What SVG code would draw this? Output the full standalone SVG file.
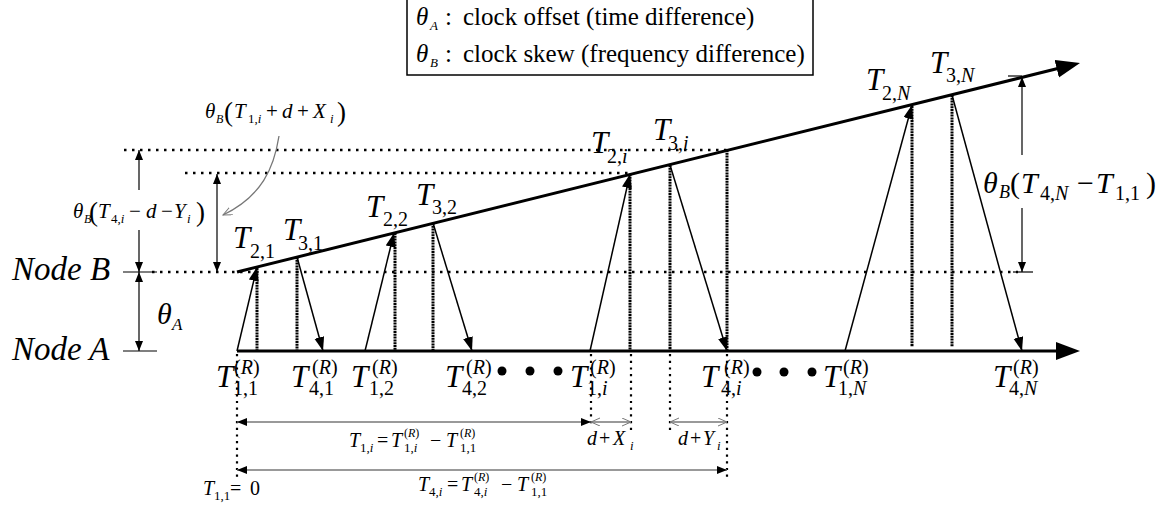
<svg xmlns="http://www.w3.org/2000/svg" width="1170" height="506" viewBox="0 0 1170 506">
<style>
text{font-family:"Liberation Serif","Times New Roman",serif;fill:#000}
.i{font-style:italic}
.u{font-style:normal}
.ax{stroke:#000;stroke-width:3;fill:none}
.msg{stroke:#000;stroke-width:1.5;fill:none;marker-end:url(#ma)}
.tv{stroke:#000;stroke-width:3;stroke-dasharray:2 0.8;fill:none}
.hd{stroke:#000;stroke-width:2.5;stroke-dasharray:2.5 5.5;fill:none}
.vd{stroke:#000;stroke-width:2.2;stroke-dasharray:2.2 4.5;fill:none}
.dim{stroke:#000;stroke-width:1.2;fill:none}
.gd{stroke:#777;stroke-width:1.3;fill:none}
.T{font-size:31px;font-style:italic}
.s{font-size:20px}
</style>
<defs>
<marker id="ma" markerUnits="userSpaceOnUse" markerWidth="16" markerHeight="12" refX="14" refY="5" orient="auto"><path d="M0,0 L14,5 L0,10 z" fill="#000"/></marker>
<marker id="big" markerUnits="userSpaceOnUse" markerWidth="26" markerHeight="20" refX="1" refY="9" orient="auto"><path d="M0,0 L24,9 L0,18 z" fill="#000"/></marker>
<marker id="da" markerUnits="userSpaceOnUse" markerWidth="12" markerHeight="10" refX="10" refY="4" orient="auto-start-reverse"><path d="M0,0 L10,4 L0,8 z" fill="#000"/></marker>
<marker id="oa" markerUnits="userSpaceOnUse" markerWidth="12" markerHeight="10" refX="9" refY="4" orient="auto-start-reverse"><path d="M0,0 L9,4 L0,8" fill="none" stroke="#777" stroke-width="1"/></marker>
</defs>

<g id="legend">
<rect x="407" y="-1" width="406" height="76" fill="#fff" stroke="#000" stroke-width="1.5"/>
<text font-size="25"><tspan class="i" x="416" y="25">θ</tspan><tspan class="i" x="430" y="30" font-size="13">A</tspan><tspan x="445" y="25">:</tspan><tspan x="463" y="25">clock offset (time difference)</tspan></text>
<text font-size="25"><tspan class="i" x="416" y="62">θ</tspan><tspan class="i" x="430" y="67" font-size="13">B</tspan><tspan x="445" y="62">:</tspan><tspan x="463" y="62">clock skew (frequency difference)</tspan></text>
</g>

<g id="reference-lines">
<line class="hd" x1="124" y1="150" x2="727" y2="150"/>
<line class="hd" x1="185" y1="173" x2="630" y2="173"/>
<line class="hd" x1="152" y1="272" x2="1018" y2="272"/>
<line class="dim" x1="123" y1="272" x2="157" y2="272"/>
<line class="dim" x1="123" y1="351" x2="157" y2="351"/>
<line class="dim" x1="1013" y1="272" x2="1033" y2="272"/>
<line class="dim" x1="1008" y1="76" x2="1022" y2="76"/>
</g>

<g id="node-A">
<line class="ax" x1="237" y1="351" x2="1057" y2="351" marker-end="url(#big)"/>
<text class="i" font-size="33" x="12" y="360">Node A</text>
</g>
<g id="node-B">
<line class="ax" x1="237" y1="272" x2="1057.7" y2="68.5" marker-end="url(#big)"/>
<text class="i" font-size="33" x="12" y="280">Node B</text>
</g>

<g id="timestamps-verticals">
<line class="tv" x1="257" y1="268" x2="257" y2="350"/>
<line class="tv" x1="297" y1="257" x2="297" y2="350"/>
<line class="tv" x1="395" y1="233" x2="395" y2="350"/>
<line class="tv" x1="433" y1="223" x2="433" y2="350"/>
<line class="tv" x1="630" y1="174" x2="630" y2="350"/>
<line class="tv" x1="670" y1="165" x2="670" y2="350"/>
<line class="tv" x1="727" y1="150" x2="727" y2="350"/>
<line class="tv" x1="912" y1="106" x2="912" y2="347"/>
<line class="tv" x1="952" y1="95" x2="952" y2="347"/>
<line class="vd" x1="237" y1="354" x2="237" y2="480"/>
<line class="vd" x1="591" y1="354" x2="591" y2="426"/>
<line class="vd" x1="631" y1="354" x2="631" y2="432"/>
<line class="vd" x1="670" y1="354" x2="670" y2="432"/>
<line class="vd" x1="727" y1="354" x2="727" y2="480"/>
</g>

<g id="connectors">
<line class="msg" x1="237" y1="351" x2="257" y2="267"/>
<line class="msg" x1="297" y1="257" x2="323" y2="351"/>
<line class="msg" x1="365" y1="351" x2="394" y2="233"/>
<line class="msg" x1="433" y1="223" x2="472" y2="351"/>
<line class="msg" x1="590" y1="351" x2="630" y2="174"/>
<line class="msg" x1="670" y1="165" x2="727" y2="351"/>
<line class="msg" x1="845" y1="351" x2="912" y2="105"/>
<line class="msg" x1="952" y1="95" x2="1022" y2="351"/>
<line class="dim" x1="139" y1="150" x2="139" y2="190" marker-start="url(#da)"/>
<line class="dim" x1="139" y1="230" x2="139" y2="272" marker-end="url(#da)"/>
<line class="dim" x1="139" y1="272" x2="139" y2="351" marker-start="url(#da)" marker-end="url(#da)"/>
<line class="dim" x1="217" y1="174" x2="217" y2="272" marker-start="url(#da)" marker-end="url(#da)"/>
<line class="dim" x1="1022" y1="77" x2="1022" y2="155" marker-start="url(#da)"/>
<line class="dim" x1="1022" y1="208" x2="1022" y2="272" marker-end="url(#da)"/>
<path class="gd" d="M279,136 C274,168 262,196 223,215" stroke-width="1" marker-end="url(#oa)"/>
<line class="gd" x1="237" y1="422" x2="591" y2="422" marker-start="url(#da)" marker-end="url(#da)"/>
<line class="gd" x1="591" y1="422" x2="631" y2="422" stroke-width="1" marker-start="url(#oa)" marker-end="url(#oa)"/>
<line class="gd" x1="670" y1="422" x2="727" y2="422" stroke-width="1" marker-start="url(#oa)" marker-end="url(#oa)"/>
<line class="gd" x1="237" y1="470" x2="727" y2="470" marker-start="url(#da)" marker-end="url(#da)"/>
</g>

<g id="labels-B">
<text><tspan class="T" x="233" y="248">T</tspan><tspan class="s" x="250" y="258">2,1</tspan></text>
<text><tspan class="T" x="283" y="240">T</tspan><tspan class="s" x="298" y="250">3,1</tspan></text>
<text><tspan class="T" x="366" y="217">T</tspan><tspan class="s" x="383" y="226">2,2</tspan></text>
<text><tspan class="T" x="416" y="205">T</tspan><tspan class="s" x="432" y="214">3,2</tspan></text>
<text><tspan class="T" x="591" y="153">T</tspan><tspan class="s" x="607" y="163">2,<tspan class="i">i</tspan></tspan></text>
<text><tspan class="T" x="653" y="140">T</tspan><tspan class="s" x="668" y="150">3,<tspan class="i">i</tspan></tspan></text>
<text><tspan class="T" x="866" y="90">T</tspan><tspan class="s" x="882" y="100">2,<tspan class="i">N</tspan></tspan></text>
<text><tspan class="T" x="930" y="73">T</tspan><tspan class="s" x="946" y="82">3,<tspan class="i">N</tspan></tspan></text>
</g>

<g id="labels-A">
<text><tspan class="T" x="216" y="387">T</tspan><tspan class="s" x="234" y="374">(<tspan class="i">R</tspan>)</tspan><tspan class="s" x="233" y="395">1,1</tspan></text>
<text><tspan class="T" x="291" y="387">T</tspan><tspan class="s" x="312" y="374">(<tspan class="i">R</tspan>)</tspan><tspan class="s" x="309" y="395">4,1</tspan></text>
<text><tspan class="T" x="351" y="387">T</tspan><tspan class="s" x="372" y="374">(<tspan class="i">R</tspan>)</tspan><tspan class="s" x="369" y="395">1,2</tspan></text>
<text><tspan class="T" x="445" y="387">T</tspan><tspan class="s" x="466" y="374">(<tspan class="i">R</tspan>)</tspan><tspan class="s" x="462" y="395">4,2</tspan></text>
<text><tspan class="T" x="570" y="387">T</tspan><tspan class="s" x="590" y="374">(<tspan class="i">R</tspan>)</tspan><tspan class="s" x="587" y="395">1,<tspan class="i">i</tspan></tspan></text>
<text><tspan class="T" x="701" y="387">T</tspan><tspan class="s" x="724" y="374">(<tspan class="i">R</tspan>)</tspan><tspan class="s" x="721" y="395">4,<tspan class="i">i</tspan></tspan></text>
<text><tspan class="T" x="823" y="387">T</tspan><tspan class="s" x="843" y="374">(<tspan class="i">R</tspan>)</tspan><tspan class="s" x="838" y="395">1,<tspan class="i">N</tspan></tspan></text>
<text><tspan class="T" x="993" y="387">T</tspan><tspan class="s" x="1013" y="374">(<tspan class="i">R</tspan>)</tspan><tspan class="s" x="1009" y="395">4,<tspan class="i">N</tspan></tspan></text>
<circle cx="502" cy="371" r="4.5"/><circle cx="530" cy="371" r="4.5"/><circle cx="558" cy="371" r="4.5"/>
<circle cx="757" cy="372" r="4.5"/><circle cx="784" cy="372" r="4.5"/><circle cx="812" cy="372" r="4.5"/>
</g>

<g id="annotations">
<text><tspan class="i" font-size="30" x="157" y="324">θ</tspan><tspan class="i" font-size="17" x="172" y="330">A</tspan></text>
<text font-size="21"><tspan class="i" x="205" y="118">θ</tspan><tspan class="i" font-size="12" x="216" y="123">B</tspan><tspan font-size="27" x="224" y="121">(</tspan><tspan class="i" x="234" y="118">T</tspan><tspan font-size="13" x="248" y="123">1,<tspan class="i">i</tspan></tspan><tspan x="266" y="118">+</tspan><tspan class="i" x="282" y="118">d</tspan><tspan x="297" y="118">+</tspan><tspan class="i" x="313" y="118">X</tspan><tspan class="i" font-size="13" x="330" y="123">i</tspan><tspan font-size="27" x="337" y="121">)</tspan></text>
<text font-size="21"><tspan class="i" x="73" y="218">θ</tspan><tspan class="i" font-size="12" x="84" y="223">B</tspan><tspan font-size="27" x="89" y="221">(</tspan><tspan class="i" x="98" y="218">T</tspan><tspan font-size="13" x="111" y="223">4,<tspan class="i">i</tspan></tspan><tspan x="129" y="218">−</tspan><tspan class="i" x="146" y="218">d</tspan><tspan x="161" y="218">−</tspan><tspan class="i" x="174" y="218">Y</tspan><tspan class="i" font-size="13" x="187" y="223">i</tspan><tspan font-size="27" x="196" y="221">)</tspan></text>
<text font-size="30"><tspan class="i" x="983" y="193">θ</tspan><tspan class="i" font-size="18" x="999" y="198">B</tspan><tspan x="1010" y="193">(</tspan><tspan class="i" x="1021" y="193">T</tspan><tspan font-size="20" x="1040" y="200">4,<tspan class="i">N</tspan></tspan><tspan x="1077" y="193">−</tspan><tspan class="i" x="1096" y="193">T</tspan><tspan font-size="20" x="1115" y="200">1,1</tspan><tspan x="1146" y="193">)</tspan></text>
<text font-size="20"><tspan class="i" x="349" y="447">T</tspan><tspan font-size="13" x="360" y="452">1,<tspan class="i">i</tspan></tspan><tspan x="377" y="447">=</tspan><tspan class="i" x="391" y="447">T</tspan><tspan font-size="12" x="404" y="437">(<tspan class="i">R</tspan>)</tspan><tspan font-size="13" x="404" y="452">1,<tspan class="i">i</tspan></tspan><tspan x="430" y="447">−</tspan><tspan class="i" x="446" y="447">T</tspan><tspan font-size="12" x="460" y="437">(<tspan class="i">R</tspan>)</tspan><tspan font-size="13" x="460" y="452">1,1</tspan></text>
<text font-size="20"><tspan class="i" x="418" y="491">T</tspan><tspan font-size="13" x="429" y="496">4,<tspan class="i">i</tspan></tspan><tspan x="447" y="491">=</tspan><tspan class="i" x="461" y="491">T</tspan><tspan font-size="12" x="474" y="481">(<tspan class="i">R</tspan>)</tspan><tspan font-size="13" x="474" y="496">4,<tspan class="i">i</tspan></tspan><tspan x="501" y="491">−</tspan><tspan class="i" x="517" y="491">T</tspan><tspan font-size="12" x="531" y="481">(<tspan class="i">R</tspan>)</tspan><tspan font-size="13" x="531" y="496">1,1</tspan></text>
<text font-size="20"><tspan class="i" x="203" y="495">T</tspan><tspan font-size="13" x="214" y="500">1,1</tspan><tspan x="230" y="495">=</tspan><tspan x="250" y="495">0</tspan></text>
<text font-size="20"><tspan class="i" x="587" y="445">d</tspan><tspan x="599" y="445">+</tspan><tspan class="i" x="613" y="445">X</tspan><tspan class="i" font-size="13" x="630" y="450">i</tspan></text>
<text font-size="20"><tspan class="i" x="678" y="445">d</tspan><tspan x="690" y="445">+</tspan><tspan class="i" x="703" y="445">Y</tspan><tspan class="i" font-size="13" x="717" y="450">i</tspan></text>
</g>
</svg>
